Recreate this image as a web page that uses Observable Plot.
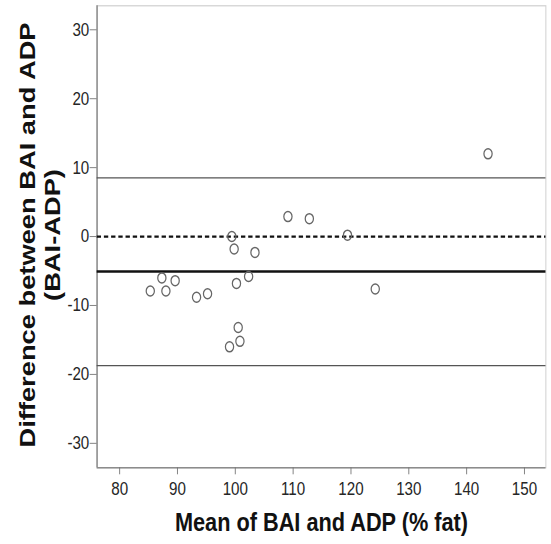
<!DOCTYPE html>
<html>
<head>
<meta charset="utf-8">
<script src="https://cdn.jsdelivr.net/npm/d3@7"></script>
<script src="https://cdn.jsdelivr.net/npm/@observablehq/plot@0.6"></script>
<style>
  html, body { margin: 0; padding: 0; background: #fff; }
  #chart { width: 551px; height: 544px; overflow: hidden; }
</style>
</head>
<body>
<div id="chart"></div>
<script>
// Bland–Altman agreement plot: BAI vs ADP body-fat estimates
const meanBAIADP = [85.3, 87.3, 88.0, 89.6, 93.3, 95.2, 99.4, 99.8, 100.2, 102.3,
                    103.4, 100.5, 100.8, 99.0, 109.1, 112.8, 119.4, 124.2, 143.7];
const diffBAIADP = [-7.9, -6.0, -7.9, -6.4, -8.8, -8.3, 0.0, -1.8, -6.8, -5.8,
                    -2.3, -13.2, -15.2, -16.0, 2.9, 2.6, 0.2, -7.6, 12.0];

// bias and 95% limits of agreement
const meanDifference = [-5.08];
const limitsOfAgreement = [8.52, -18.72];
const zeroLine = [0];

const xTicks = [80, 90, 100, 110, 120, 130, 140, 150];
const yTicks = [-30, -20, -10, 0, 10, 20, 30];
const xDomain = [76.1, 153.7];
const yDomain = [-33.55, 33.48];

const xTitle = ["Mean of BAI and ADP (% fat)"];
const yTitle = ["Difference between BAI and ADP\n(BAI-ADP)"];

const points = meanBAIADP.map((m, i) => ({mean: m, diff: diffBAIADP[i]}));

// the figure is laid out on a wider canvas and squeezed horizontally
const outW = 551, outH = 544, squeeze = 0.82;
const innerW = Math.round(outW / squeeze);
const tickFont = 18.5;

const fmt = d => String(d);

const svg = Plot.plot({
  width: innerW,
  height: outH,
  marginLeft: 117.9,
  marginRight: innerW - 545.5 / squeeze,
  marginTop: 5.3,
  marginBottom: 76.7,
  x: {domain: xDomain},
  y: {domain: yDomain},
  style: {fontFamily: "'Liberation Sans', Arial, sans-serif", background: "white", color: "#333"},
  marks: [
    Plot.frame({stroke: "#cfcfcf", strokeWidth: 1.2}),
    Plot.ruleX([xDomain[0]], {stroke: "#8c8c8c", strokeWidth: 1.8}),
    Plot.ruleY([yDomain[0]], {stroke: "#8c8c8c", strokeWidth: 1.5}),
    Plot.ruleY(limitsOfAgreement, {stroke: "#555", strokeWidth: 1.3}),
    Plot.ruleY(meanDifference, {stroke: "#111", strokeWidth: 2.6}),
    Plot.ruleY(zeroLine, {stroke: "#111", strokeWidth: 2.3, strokeDasharray: "5.3,3.5"}),
    Plot.dot(points, {x: "mean", y: "diff", r: 5, stroke: "#666", strokeWidth: 1.5, fill: "none"}),
    Plot.axisX(xTicks, {tickSize: 7, tickPadding: 7.4, fontSize: tickFont, stroke: "#777", fill: "#262626", tickFormat: fmt, label: null}),
    Plot.axisY(yTicks, {tickSize: 8.5, tickPadding: 1, fontSize: tickFont, stroke: "#777", fill: "#262626", tickFormat: fmt, label: null}),
    Plot.text(xTitle, {text: d => d, frameAnchor: "bottom", lineAnchor: "top", dy: 44.4,
                       fontSize: 26.5, fontWeight: "bold", fill: "#111"}),
    Plot.text(yTitle, {text: d => d, frameAnchor: "left", rotate: -90, lineAnchor: "top",
                       textAnchor: "middle", lineHeight: 1.115, dx: -97.5, dy: -1.8,
                       fontSize: 27.3, fontWeight: "bold", fill: "#111"})
  ]
});

svg.setAttribute("width", outW);
svg.setAttribute("height", outH);
svg.setAttribute("viewBox", `0 0 ${innerW} ${outH}`);
svg.setAttribute("preserveAspectRatio", "none");
svg.style.width = outW + "px";
svg.style.height = outH + "px";
svg.style.maxWidth = "none";

document.getElementById("chart").appendChild(svg);
</script>
</body>
</html>
